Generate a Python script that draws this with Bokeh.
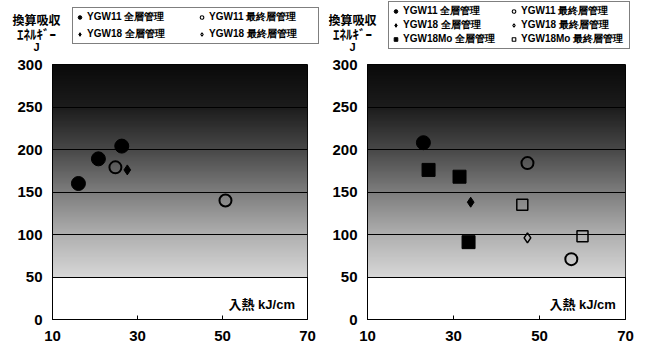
import numpy as np
from bokeh.plotting import figure
from bokeh.layouts import row, column
from bokeh.models import Legend, LegendItem, FixedTicker, Label
from bokeh.embed import file_html
from bokeh.resources import INLINE

# ---------------- data ----------------
x_ticks = [10, 30, 50, 70]
y_ticks = [0, 50, 100, 150, 200, 250, 300]

# left chart
L_ygw11_all_x = [16.1, 20.8, 26.3]
L_ygw11_all_y = [160, 189, 204]
L_ygw11_fin_x = [24.8, 50.7]
L_ygw11_fin_y = [179, 140]
L_ygw18_all_x = [27.6]
L_ygw18_all_y = [176]
L_ygw18_fin_x = []
L_ygw18_fin_y = []

# right chart
R_ygw11_all_x = [23.0]
R_ygw11_all_y = [208]
R_ygw11_fin_x = [47.2, 57.4]
R_ygw11_fin_y = [184, 71]
R_ygw18_all_x = [34.0]
R_ygw18_all_y = [138]
R_ygw18_fin_x = [47.2]
R_ygw18_fin_y = [96]
R_ygw18mo_all_x = [24.2, 31.4, 33.5]
R_ygw18mo_all_y = [176, 168, 91]
R_ygw18mo_fin_x = [46.0, 60.0]
R_ygw18mo_fin_y = [135, 98]

lbl_11_all = "YGW11 全層管理"
lbl_11_fin = "YGW11 最終層管理"
lbl_18_all = "YGW18 全層管理"
lbl_18_fin = "YGW18 最終層管理"
lbl_mo_all = "YGW18Mo 全層管理"
lbl_mo_fin = "YGW18Mo 最終層管理"

ytitle = ["換算吸収", "ｴﾈﾙｷﾞｰ", "J"]
xtitle = "入熱  kJ/cm"

FONT = "Liberation Sans, Noto Sans CJK JP"
LEG_FONT = "Liberation Sans"

# series styles
ST = {
    "11_all": dict(marker="circle", size=14, fill_color="black", line_color="black"),
    "11_fin": dict(marker="circle", size=12, fill_color=None, line_color="black", line_width=2),
    "18_all": dict(marker="diamond", size=10, fill_color="black", line_color="black"),
    "18_fin": dict(marker="diamond", size=10, fill_color=None, line_color="black", line_width=1.5),
    "mo_all": dict(marker="square", size=13, fill_color="black", line_color="black"),
    "mo_fin": dict(marker="square", size=11, fill_color=None, line_color="black", line_width=1.5),
}
LEG_SIZE = {"11_all": 9, "11_fin": 8, "18_all": 9, "18_fin": 9, "mo_all": 8, "mo_fin": 8}

# gradient band (style only)
band_lo, band_hi = 50, 300
vals = np.linspace(band_lo, band_hi, 250)
gray = np.interp(vals, [50, 100, 150, 200, 250, 300], [215, 175, 125, 72, 28, 10]).astype(np.uint32)

STRIP_H = 57
TOP_B = 7
FRAME_H = 255
BOT_B = 26


def gradient_img(g):
    a = np.zeros((len(g), 1), dtype=np.uint32)
    view = a.view(dtype=np.uint8).reshape((len(g), 1, 4))
    view[:, 0, 0] = g
    view[:, 0, 1] = g
    view[:, 0, 2] = g
    view[:, 0, 3] = 255
    return a


def make_fig(bl, fw, br, xt_end):
    p = figure(width=bl + fw + br, height=TOP_B + FRAME_H + BOT_B, x_range=(10, 70), y_range=(0, 300),
               output_backend="svg", toolbar_location=None,
               min_border_left=bl, min_border_right=br, min_border_top=TOP_B, min_border_bottom=BOT_B)
    r = p.image_rgba(image=[gradient_img(gray)], x=10, y=band_lo, dw=60, dh=band_hi - band_lo)
    r.level = "image"
    p.xgrid.visible = False
    p.ygrid.ticker = FixedTicker(ticks=[50, 100, 150, 200, 250])
    p.ygrid.grid_line_color = "black"
    p.ygrid.grid_line_width = 1
    p.outline_line_color = "black"
    p.background_fill_color = "white"
    p.border_fill_color = "white"
    for ax in (p.xaxis[0], p.yaxis[0]):
        ax.major_tick_in = 4
        ax.major_tick_out = 0
        ax.minor_tick_line_color = None
        ax.axis_line_color = "black"
        ax.major_tick_line_color = "black"
        ax.major_label_text_font = FONT
        ax.major_label_text_font_style = "bold"
        ax.major_label_text_font_size = "15px"
        ax.major_label_text_color = "black"
    p.xaxis.ticker = FixedTicker(ticks=x_ticks)
    p.yaxis.ticker = FixedTicker(ticks=y_ticks)
    p.xaxis.major_label_standoff = 11
    p.yaxis.major_label_standoff = 10
    p.add_layout(Label(x=xt_end, y=17.6, text=xtitle, text_align="right", text_baseline="middle",
                       text_color="black", text_font=FONT, text_font_style="bold", text_font_size="13px"))
    return p


def make_strip(w, tx, keys, labels, loc, lw, spacing, pad, lh):
    s = figure(width=w, height=STRIP_H, x_range=(0, w), y_range=(0, STRIP_H),
               output_backend="svg", toolbar_location=None,
               min_border_left=0, min_border_right=0, min_border_top=0, min_border_bottom=0)
    s.axis.visible = False
    s.grid.visible = False
    s.outline_line_color = None
    s.border_fill_color = "white"
    s.add_layout(Label(x=tx, y=STRIP_H - 20, text=ytitle[0], text_align="center", text_baseline="middle",
                       text_color="black", text_font=FONT, text_font_style="bold", text_font_size="12px"))
    s.add_layout(Label(x=tx, y=STRIP_H - 34, text=ytitle[1], text_align="center", text_baseline="middle",
                       text_color="black", text_font=FONT, text_font_style="bold", text_font_size="13px"))
    s.add_layout(Label(x=tx, y=STRIP_H - 46, text=ytitle[2], text_align="center", text_baseline="middle",
                       text_color="black", text_font=FONT, text_font_style="bold", text_font_size="11px"))
    items = []
    for k, lab in zip(keys, labels):
        st = dict(ST[k])
        st["size"] = LEG_SIZE[k]
        if "line_width" in st:
            st["line_width"] = 1.1
        # legend-only renderer: a single NaN point so the glyph has a style but draws nothing
        rr = s.scatter([np.nan], [np.nan], **st)
        items.append(LegendItem(label=lab, renderers=[rr]))
    leg = Legend(items=items, location=loc, ncols=2)
    leg.border_line_color = "black"
    leg.border_line_width = 1
    leg.background_fill_color = "white"
    leg.background_fill_alpha = 1
    leg.label_text_font = LEG_FONT
    leg.label_text_font_style = "bold"
    leg.label_text_font_size = "10px"
    leg.label_text_color = "black"
    leg.label_height = lh
    leg.label_width = lw
    leg.glyph_width = 9
    leg.glyph_height = lh
    leg.label_standoff = 3
    leg.spacing = spacing
    leg.padding = pad
    leg.margin = 0
    s.add_layout(leg, "center")
    return s


# ---------------- left ----------------
p1 = make_fig(52, 255, 21, 67.9)
p1.scatter(L_ygw11_all_x, L_ygw11_all_y, **ST["11_all"])
p1.scatter(L_ygw11_fin_x, L_ygw11_fin_y, **ST["11_fin"])
p1.scatter(L_ygw18_all_x, L_ygw18_all_y, **ST["18_all"])
p1.scatter(L_ygw18_fin_x, L_ygw18_fin_y, **ST["18_fin"])
s1 = make_strip(p1.width, 36, ["11_all", "18_all", "11_fin", "18_fin"],
                [lbl_11_all, lbl_18_all, lbl_11_fin, lbl_18_fin], (72, STRIP_H - 44), 107, 3, 2, 12)

# ---------------- right ----------------
p2 = make_fig(39, 258, 12, 68.6)
p2.scatter(R_ygw11_all_x, R_ygw11_all_y, **ST["11_all"])
p2.scatter(R_ygw11_fin_x, R_ygw11_fin_y, **ST["11_fin"])
p2.scatter(R_ygw18_all_x, R_ygw18_all_y, **ST["18_all"])
p2.scatter(R_ygw18_fin_x, R_ygw18_fin_y, **ST["18_fin"])
p2.scatter(R_ygw18mo_all_x, R_ygw18mo_all_y, **ST["mo_all"])
p2.scatter(R_ygw18mo_fin_x, R_ygw18mo_fin_y, **ST["mo_fin"])
s2 = make_strip(p2.width, 24, ["11_all", "18_all", "mo_all", "11_fin", "18_fin", "mo_fin"],
                [lbl_11_all, lbl_18_all, lbl_mo_all, lbl_11_fin, lbl_18_fin, lbl_mo_fin],
                (60, STRIP_H - 49), 106, 0, 2, 10)

layout = column(row(s1, s2), row(p1, p2))
open("out.html", "w").write(file_html(layout, INLINE))
